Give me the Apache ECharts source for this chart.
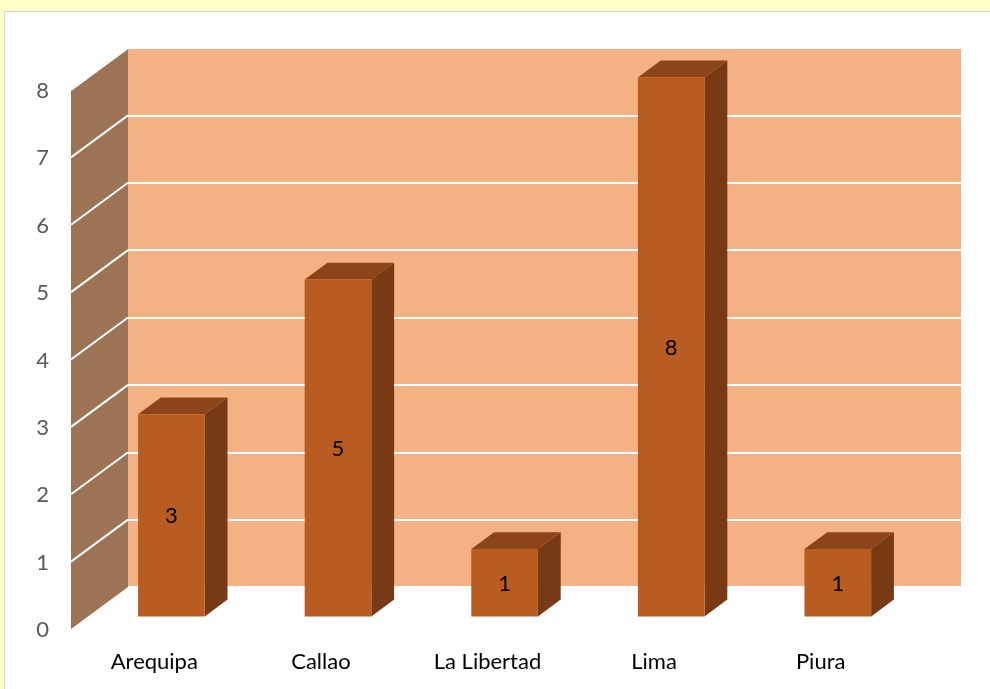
<!DOCTYPE html>
<html>
<head>
<meta charset="utf-8">
<script src="https://cdn.jsdelivr.net/npm/echarts@6/dist/echarts.min.js"></script>
<style>
html,body{margin:0;padding:0;background:#FFFFC8;}
#c{width:990px;height:689px;}
</style>
</head>
<body>
<div id="c"></div>
<script>
// ---- data ----
const categories = ['Arequipa', 'Callao', 'La Libertad', 'Lima', 'Piura'];
const values = [3, 5, 1, 8, 1];
const yTicks = [0, 1, 2, 3, 4, 5, 6, 7, 8];

// ---- style constants ----
const DEPTH_DX = -57, DEPTH_DY = 42;   // oblique projection of full depth
const FRONT_F = 0.7, BACK_F = 0.3;     // bar faces as fraction of depth
const BAR_W = 0.4;                     // bar width as fraction of band
const C_FRONT = '#B95C21', C_TOP = '#8E4419', C_SIDE = '#773A15';
const C_WALL = '#F4B183', C_SIDEWALL = '#9C7354';
const FONT = 'Lato';

const chart = echarts.init(document.getElementById('c'), null, {renderer: 'canvas'});

const option = {
  animation: false,
  backgroundColor: '#FFFFC8',
  graphic: [{
    type: 'rect', z: -10, silent: true,
    shape: {x: 4.5, y: 11.5, width: 1000, height: 700},
    style: {fill: '#ffffff', stroke: '#d4d4d4', lineWidth: 1}
  }],
  grid: [
    {left: 128, right: 29, top: 48, bottom: 102, show: true, backgroundColor: C_WALL, borderWidth: 0},
    {left: 71, right: 86, top: 91, bottom: 59, show: false}
  ],
  xAxis: [
    {type: 'category', gridIndex: 0, data: categories, show: false},
    {type: 'category', gridIndex: 1, data: categories,
     axisLine: {show: false}, axisTick: {show: false},
     axisLabel: {margin: 21, color: '#000', fontSize: 22, fontFamily: FONT}}
  ],
  yAxis: [
    {type: 'value', gridIndex: 0, min: 0, max: 8, interval: 1,
     axisLine: {show: false}, axisTick: {show: false}, axisLabel: {show: false},
     splitLine: {show: true, lineStyle: {color: '#ffffff', width: 2}}},
    {type: 'value', gridIndex: 1, min: 0, max: 8, interval: 1,
     axisLine: {show: false}, axisTick: {show: false}, splitLine: {show: false},
     axisLabel: {margin: 22, color: '#595959', fontSize: 22, fontFamily: FONT}}
  ],
  series: [
    // side wall
    {
      type: 'custom', xAxisIndex: 0, yAxisIndex: 0, z: 1, silent: true,
      data: [[0, 8]],
      renderItem: function (params, api) {
        const cs = params.coordSys;
        const x = cs.x;
        const yTop = api.coord([0, 8])[1];
        const yBot = api.coord([0, 0])[1];
        return {
          type: 'polygon',
          shape: {points: [[x, yTop], [x, yBot], [x + DEPTH_DX, yBot + DEPTH_DY], [x + DEPTH_DX, yTop + DEPTH_DY]]},
          style: {fill: C_SIDEWALL}
        };
      }
    },
    // side wall grid lines
    {
      type: 'custom', xAxisIndex: 0, yAxisIndex: 0, z: 2, silent: true,
      data: yTicks.slice(1).map(v => [0, v]),
      renderItem: function (params, api) {
        const cs = params.coordSys;
        const x = cs.x;
        const y = api.coord([0, api.value(1)])[1];
        return {
          type: 'line',
          shape: {x1: x, y1: y, x2: x + DEPTH_DX, y2: y + DEPTH_DY},
          style: {stroke: '#ffffff', lineWidth: 2}
        };
      }
    },
    // 3D bars
    {
      type: 'custom', xAxisIndex: 0, yAxisIndex: 0, z: 5, silent: true,
      data: values.map((v, i) => [i, v]),
      renderItem: function (params, api) {
        const i = api.value(0), v = api.value(1);
        const base = api.coord([i, 0]);
        const top = api.coord([i, v]);
        const band = api.size([1, 0])[0];
        const w = band * BAR_W;
        const fx = base[0] + FRONT_F * DEPTH_DX, fdy = FRONT_F * DEPTH_DY;
        const bx = base[0] + BACK_F * DEPTH_DX, bdy = BACK_F * DEPTH_DY;
        const fL = fx - w / 2, fR = fx + w / 2;
        const bL = bx - w / 2, bR = bx + w / 2;
        const fTop = top[1] + fdy, fBot = base[1] + fdy;
        const bTop = top[1] + bdy, bBot = base[1] + bdy;
        return {
          type: 'group',
          children: [
            {type: 'polygon', shape: {points: [[fR, fTop], [bR, bTop], [bR, bBot], [fR, fBot]]}, style: {fill: C_SIDE}},
            {type: 'polygon', shape: {points: [[fL, fTop], [fR, fTop], [bR, bTop], [bL, bTop]]}, style: {fill: C_TOP}},
            {type: 'rect', shape: {x: fL, y: fTop, width: w, height: fBot - fTop}, style: {fill: C_FRONT}},
            {type: 'text', style: {x: fx, y: (fTop + fBot) / 2 + 1, text: String(v), align: 'center', verticalAlign: 'middle',
              fill: '#000', fontSize: 22, fontFamily: FONT}}
          ]
        };
      }
    }
  ]
};
chart.setOption(option);
</script>
</body>
</html>
